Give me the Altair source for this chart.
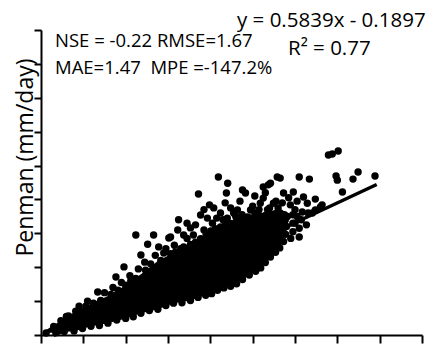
import altair as alt
import pandas as pd

# ---- data (axis units: both axes 0..9, one tick per unit) ----
# scattered points outside the saturated core
pts_x = [1.34, 1.77, 1.96, 2.24, 2.36, 2.52, 2.66, 2.78, 3.02, 3.23, 3.72, 3.98, 4.19, 4.41, 4.38,
         4.76, 4.83, 5.25, 5.42, 5.58, 5.65, 6.10, 6.34, 6.79, 6.88, 7.02, 6.97, 7.00, 7.37, 7.49,
         7.89, 7.12, 6.48, 6.27, 6.10, 6.41, 6.64, 4.24, 3.93, 4.48, 4.64, 5.37, 5.25, 5.73, 5.96,
         6.20, 6.29, 6.17, 5.89, 5.49, 5.18, 4.95, 4.88, 3.06, 3.53, 3.65, 3.37, 3.77, 4.08, 2.90,
         3.37, 5.73, 5.77, 6.31, 6.48, 6.60, 5.05, 5.35, 5.60, 5.75, 5.95, 4.30, 4.60, 6.00, 5.95,
         6.15,
         0.60, 0.90, 1.10, 1.50, 1.70, 1.90, 2.10, 2.30, 2.45, 2.70, 2.95, 3.15, 3.45, 3.60, 3.85,
         4.05, 4.15, 4.40, 4.55, 4.75, 5.00, 5.15, 5.40, 5.55, 5.70, 5.85, 6.05, 6.00, 5.30, 5.05,
         4.70, 4.35, 3.85, 3.45, 3.25, 5.95, 6.05, 6.10, 5.90]
pts_y = [1.27, 1.71, 2.01, 2.95, 2.36, 2.68, 2.95, 2.60, 2.86, 3.10, 4.16, 3.84, 4.66, 4.48, 4.19,
         4.28, 4.19, 4.37, 4.48, 4.66, 4.63, 4.66, 4.60, 5.31, 5.34, 5.43, 4.69, 4.57, 4.60, 4.81,
         4.69, 4.22, 4.01, 3.25, 2.89, 3.60, 3.84, 3.60, 3.45, 3.75, 3.69, 4.43, 4.04, 4.19, 4.22,
         4.07, 3.89, 3.63, 3.84, 3.89, 3.89, 3.69, 3.48, 2.89, 3.16, 3.25, 2.95, 3.54, 3.75, 2.42,
         2.60, 3.01, 3.39, 3.60, 3.69, 3.78, 3.60, 3.70, 3.75, 3.55, 3.55, 3.40, 3.50, 3.30, 3.05,
         3.40,
         0.55, 0.85, 1.00, 1.25, 1.40, 1.55, 1.75, 1.95, 2.15, 2.35, 2.55, 2.65, 2.85, 2.95, 3.10,
         3.30, 3.45, 3.45, 3.60, 3.55, 3.80, 3.70, 3.75, 3.95, 3.90, 4.05, 3.95, 3.70, 4.20, 4.10,
         3.95, 3.90, 3.70, 3.30, 3.40, 3.30, 3.50, 3.15, 2.85]

# points along the lower edge of the dense cloud
low_x = [0.12, 0.35, 0.55, 0.78, 0.98, 1.18, 1.38, 1.58, 1.79, 2.00, 2.18, 2.36, 2.56, 2.76, 2.95,
         3.13, 3.33, 3.53, 3.71, 3.89, 4.03, 4.17, 4.32, 4.48, 4.62, 4.76, 4.92, 5.07, 5.19, 5.30,
         5.42, 5.54, 5.64, 5.73, 5.78, 5.80, 5.82]
low_y = [0.06, 0.07, 0.10, 0.12, 0.19, 0.26, 0.28, 0.35, 0.44, 0.49, 0.54, 0.64, 0.72, 0.76, 0.87,
         0.94, 0.95, 1.02, 1.11, 1.17, 1.22, 1.32, 1.39, 1.44, 1.51, 1.64, 1.77, 1.88, 1.98, 2.14,
         2.30, 2.44, 2.57, 2.76, 2.97, 3.20, 3.50]

# points along the upper edge of the dense cloud
up_x = [0.30, 0.47, 0.65, 0.82, 1.06, 1.24, 1.41, 1.65, 1.82, 2.00, 2.12, 2.24, 2.47, 2.59, 2.83,
        3.06, 3.18, 3.30, 3.53, 3.65, 3.77, 3.90, 4.01, 4.12, 4.24, 4.36, 4.48, 4.60, 4.71, 4.83,
        4.95, 5.06, 5.18, 5.30, 5.42, 5.53, 5.65, 5.75]
up_y = [0.25, 0.42, 0.56, 0.70, 0.85, 0.94, 1.02, 1.20, 1.32, 1.47, 1.59, 1.67, 1.91, 2.10, 2.20,
        2.40, 2.45, 2.55, 2.67, 2.74, 2.84, 2.96, 3.07, 3.14, 3.19, 3.26, 3.29, 3.33, 3.40, 3.43,
        3.45, 3.49, 3.51, 3.53, 3.56, 3.58, 3.60, 3.52]

# saturated core of the cloud (where the points merge into solid black)
core_x = [0.12, 0.47, 0.82, 1.18, 1.58, 2.00, 2.36, 2.76, 3.13, 3.53, 3.89, 4.24, 4.48, 4.76, 5.07,
          5.30, 5.54, 5.73, 5.82]
core_lo = [0.06, 0.08, 0.12, 0.26, 0.35, 0.49, 0.64, 0.76, 0.94, 1.02, 1.17, 1.35, 1.44, 1.64, 1.88,
           2.14, 2.44, 2.76, 3.20]
core_hi = [0.15, 0.42, 0.70, 0.92, 1.15, 1.47, 1.79, 2.18, 2.43, 2.67, 2.94, 3.19, 3.29, 3.41, 3.47,
           3.53, 3.58, 3.58, 3.50]

# trend line y = 0.5839x - 0.1897
slope = 0.5839
intercept = -0.1897
line_x = [0.30, 7.93]

axis_ticks = list(range(10))

ann_eq = "y = 0.5839x - 0.1897"
ann_r2 = "R² = 0.77"
ann_1 = "NSE = -0.22 RMSE=1.67"
ann_2 = "MAE=1.47\u00a0 MPE =-147.2%"
y_title = "Penman (mm/day)"

# ---- build ----
FONT = "Open Sans"
pts = pd.DataFrame({"x": pts_x + low_x + up_x, "y": pts_y + low_y + up_y})
core = pd.DataFrame({"x": core_x, "lo": core_lo, "hi": core_hi})
line = pd.DataFrame({"x": line_x, "y": [slope * v + intercept for v in line_x]})

xs = alt.Scale(domain=[0, 9], nice=False, zero=False)
ys = alt.Scale(domain=[0, 9], nice=False, zero=False)

ax_common = dict(values=axis_ticks, labels=False, grid=False, title=None,
                 domainColor="black", domainWidth=2, tickColor="black", tickWidth=2)
xaxis = alt.Axis(tickSize=8, **ax_common)
yaxis = alt.Axis(tickSize=7, **ax_common)

X = lambda f: alt.X(f, scale=xs, axis=xaxis)
Y = lambda f: alt.Y(f, scale=ys, axis=yaxis)

core_layer = alt.Chart(core).mark_area(color="black", opacity=1, interpolate="linear").encode(
    x=X("x:Q"), y=Y("lo:Q"), y2="hi:Q",
)

pt_layer = alt.Chart(pts).mark_circle(color="black", opacity=1, size=55).encode(
    x=X("x:Q"), y=Y("y:Q"),
)

line_layer = alt.Chart(line).mark_line(color="black", strokeWidth=3.5).encode(
    x=X("x:Q"), y=Y("y:Q"),
)

def txt(s, x, y, size, angle=0, align="left"):
    return alt.Chart(pd.DataFrame({"t": [s]})).mark_text(
        font=FONT, fontSize=size, color="black", align=align, baseline="alphabetic",
        angle=angle,
    ).encode(x=alt.value(x), y=alt.value(y), text="t:N")

texts = [
    txt(ann_eq, 196, -3, 20.5),
    txt(ann_r2, 247, 25, 20.5),
    txt(ann_1, 14, 17, 18.5),
    txt(ann_2, 14, 44, 18.5),
    txt(y_title, -8, 127.5, 23, angle=270, align="center"),
]

chart = alt.layer(core_layer, pt_layer, line_layer, *texts).properties(
    width=381, height=305,
    autosize=alt.AutoSizeParams(type="none"),
    padding={"left": 41, "top": 30, "right": 8, "bottom": 10},
    background="white",
).configure_view(stroke=None)

chart.save("out.html", embed_options={"renderer": "svg", "actions": False})
